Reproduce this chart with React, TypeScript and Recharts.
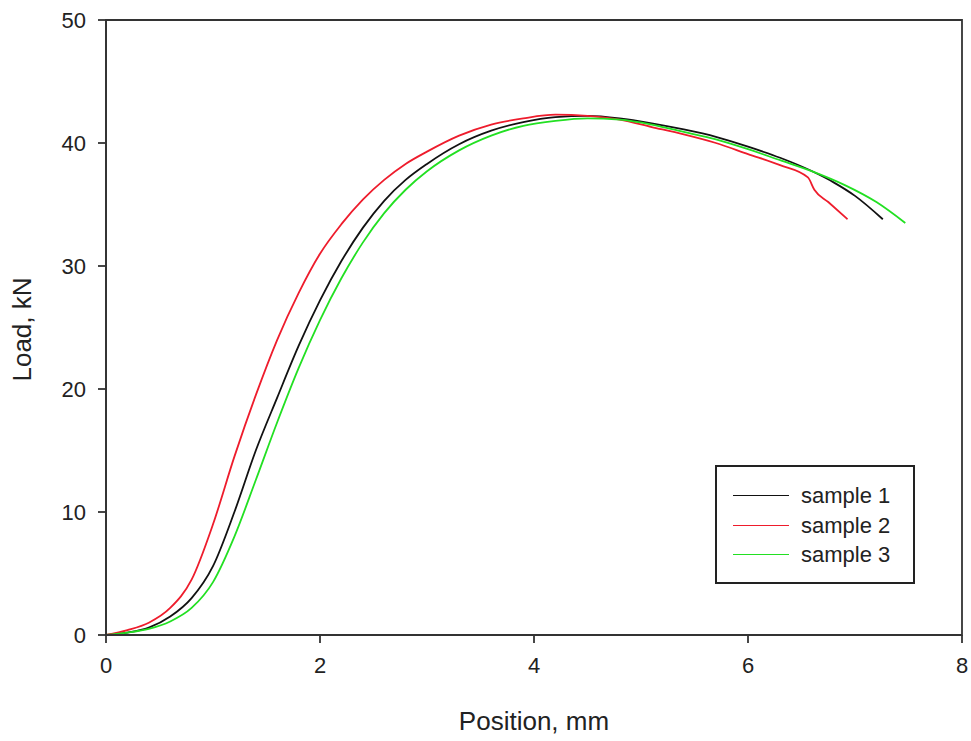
import React from "react";
import {
  LineChart,
  Line,
  XAxis,
  YAxis,
  ReferenceArea,
  Legend,
  Label,
} from "recharts";

// Position (mm) and Load (kN)
const sample1Position = [0, 0.2, 0.4, 0.6, 0.8, 1.0, 1.2, 1.4, 1.6, 1.8, 2.0, 2.2, 2.4, 2.6, 2.8, 3.0, 3.3, 3.6, 3.9, 4.2, 4.5, 4.8, 5.1, 5.4, 5.7, 6.0, 6.3, 6.6, 6.8, 7.0, 7.26];
const sample1Load = [0, 0.2, 0.6, 1.5, 3.0, 5.6, 10.0, 15.0, 19.3, 23.5, 27.2, 30.4, 33.1, 35.3, 37.0, 38.3, 39.9, 41.0, 41.7, 42.1, 42.2, 42.0, 41.6, 41.1, 40.5, 39.7, 38.8, 37.7, 36.8, 35.7, 33.8];

const sample2Position = [0, 0.2, 0.4, 0.6, 0.8, 1.0, 1.2, 1.4, 1.6, 1.8, 2.0, 2.2, 2.4, 2.6, 2.8, 3.0, 3.3, 3.6, 3.9, 4.2, 4.5, 4.8, 5.1, 5.4, 5.7, 6.0, 6.3, 6.56, 6.62, 6.75, 6.93];
const sample2Load = [0, 0.4, 1.0, 2.2, 4.5, 9.0, 14.5, 19.5, 24.0, 27.8, 31.0, 33.4, 35.4, 37.0, 38.3, 39.3, 40.6, 41.5, 42.0, 42.3, 42.2, 41.9, 41.3, 40.7, 40.0, 39.1, 38.2, 37.2, 36.2, 35.2, 33.8];

const sample3Position = [0, 0.2, 0.4, 0.6, 0.8, 1.0, 1.2, 1.4, 1.6, 1.8, 2.0, 2.2, 2.4, 2.6, 2.8, 3.0, 3.3, 3.6, 3.9, 4.2, 4.5, 4.8, 5.1, 5.4, 5.7, 6.0, 6.3, 6.6, 6.9, 7.2, 7.47];
const sample3Load = [0, 0.2, 0.5, 1.1, 2.2, 4.3, 8.0, 12.6, 17.3, 21.7, 25.6, 29.0, 31.9, 34.3, 36.2, 37.7, 39.4, 40.6, 41.4, 41.8, 42.0, 41.9, 41.5, 40.9, 40.3, 39.5, 38.6, 37.7, 36.6, 35.2, 33.5];

const seriesNames = ["sample 1", "sample 2", "sample 3"];
const seriesColors = ["#111111", "#ee1c2c", "#22e022"];

const xTicks = [0, 2, 4, 6, 8];
const yTicks = [0, 10, 20, 30, 40, 50];

const toRows = (xs: number[], ys: number[]) => xs.map((x, i) => ({ x, y: ys[i] }));

const seriesData = [
  toRows(sample1Position, sample1Load),
  toRows(sample2Position, sample2Load),
  toRows(sample3Position, sample3Load),
];

const FONT = '"Liberation Sans", Arial, sans-serif';

const LegendBox = (props: any) => {
  const payload = props.payload || [];
  return (
    <div
      style={{
        width: 200,
        height: 119,
        border: "2px solid #222",
        background: "#fff",
        fontFamily: FONT,
        fontSize: 22,
        color: "#222",
        paddingTop: 14,
        boxSizing: "border-box",
      }}
    >
      {payload.map((p: any) => (
        <div key={p.value} style={{ display: "flex", alignItems: "center", height: 29.5 }}>
          <div style={{ marginLeft: 16, width: 56, height: 0, borderTop: `1.6px solid ${p.color}` }} />
          <span style={{ marginLeft: 12, lineHeight: "29px" }}>{p.value}</span>
        </div>
      ))}
    </div>
  );
};

const YLabel = (props: any) => {
  const vb = props.viewBox || {};
  const cx = 22;
  const cy = vb.y + vb.height / 2 + 2;
  return (
    <text
      x={cx}
      y={cy}
      transform={`rotate(-90, ${cx}, ${cy})`}
      textAnchor="middle"
      dominantBaseline="central"
      fontFamily={FONT}
      fontSize={26}
      fill="#222"
    >
      Load, kN
    </text>
  );
};

export default function App() {
  return (
    <div style={{ position: "absolute", left: 0, top: 0, background: "#fff" }}>
      <LineChart
        width={971}
        height={741}
        margin={{ top: 20, right: 9, bottom: 0, left: 0 }}
      >
        <XAxis
          type="number"
          dataKey="x"
          domain={[0, 8]}
          ticks={xTicks}
          allowDataOverflow
          height={106}
          tickSize={8}
          tickMargin={14}
          stroke="#333"
          strokeWidth={1.8}
          tick={{ fill: "#222", fontSize: 22, fontFamily: FONT }}
        >
          <Label
            value="Position, mm"
            position="insideBottom"
            offset={11}
            style={{ fontFamily: FONT, fontSize: 26, fill: "#222" }}
          />
        </XAxis>
        <YAxis
          type="number"
          dataKey="y"
          domain={[0, 50]}
          ticks={yTicks}
          allowDataOverflow
          width={106}
          tickSize={8}
          tickMargin={12}
          stroke="#333"
          strokeWidth={1.8}
          tick={{ fill: "#222", fontSize: 22, fontFamily: FONT }}
        >
          <Label content={<YLabel />} />
        </YAxis>
        <ReferenceArea
          x1={0}
          x2={8}
          y1={0}
          y2={50}
          fill="none"
          stroke="#333"
          strokeWidth={1.8}
          ifOverflow="visible"
        />
        {seriesData.map((d, i) => (
          <Line
            key={seriesNames[i]}
            data={d}
            dataKey="y"
            name={seriesNames[i]}
            type="monotone"
            stroke={seriesColors[i]}
            strokeWidth={1.8}
            dot={false}
            activeDot={false}
            isAnimationActive={false}
          />
        ))}
        <Legend
          layout="horizontal"
          verticalAlign="middle"
          align="center"
          content={<LegendBox />}
          wrapperStyle={{ position: "absolute", left: 715, top: 465, width: 202, height: 121 }}
        />
      </LineChart>
    </div>
  );
}
